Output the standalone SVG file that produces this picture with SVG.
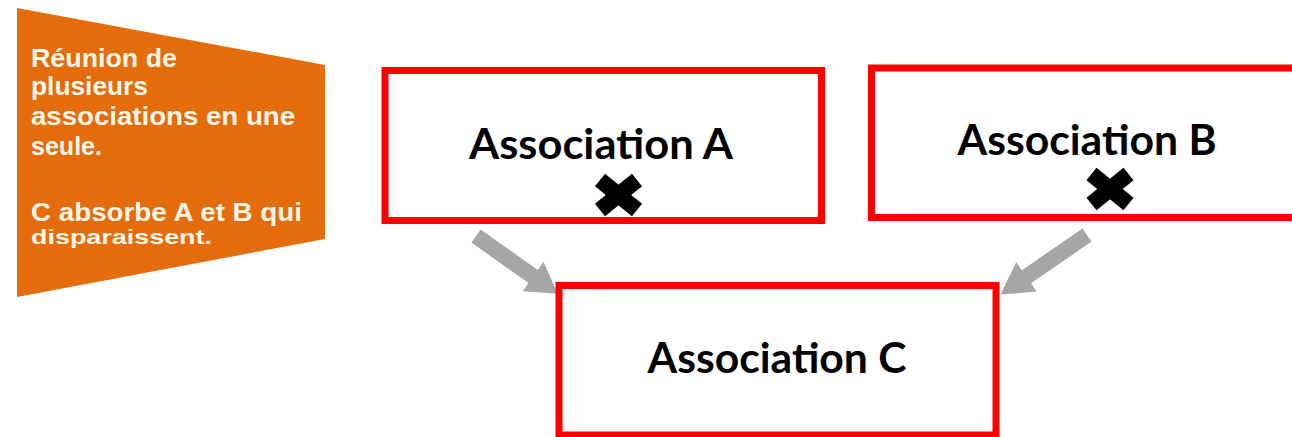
<svg xmlns="http://www.w3.org/2000/svg" width="1292" height="437" viewBox="0 0 1292 437">
<defs>
<style>
.box{fill:#ffffff;stroke:#ff0000;stroke-width:7}
.lbl{font-family:Lato,"Liberation Sans",Arial,sans-serif;font-weight:bold;font-size:42px;fill:#000000;text-anchor:middle}
.note{font-family:"Liberation Sans",Arial,sans-serif;font-weight:bold;font-size:26px;fill:#FFF6EA}
.arrow{fill:#a6a6a6}
.cross{stroke:#000000;stroke-width:16;stroke-linecap:butt}
</style>
<polygon id="arrowShape" points="0,-8 70,-8 70,-18 100,0 70,18 70,8 0,8"/>
</defs>
<rect width="1292" height="437" fill="#ffffff"/>

<g id="note">
<polygon points="17,8 325,65 325,239 17,297" fill="#E46C0A"/>
<text class="note" x="31" y="67" textLength="146" lengthAdjust="spacingAndGlyphs">Réunion de</text>
<text class="note" x="31" y="95" textLength="117" lengthAdjust="spacingAndGlyphs">plusieurs</text>
<text class="note" x="31" y="125" textLength="264" lengthAdjust="spacingAndGlyphs">associations  en une</text>
<text class="note" x="31" y="155" textLength="71" lengthAdjust="spacingAndGlyphs">seule.</text>
<text class="note"><tspan x="31" y="221" textLength="271" lengthAdjust="spacingAndGlyphs">C absorbe A et B qui</tspan><tspan x="31" y="244" font-size="21" textLength="181" lengthAdjust="spacingAndGlyphs">disparaissent.</tspan></text>
</g>

<g id="connectors">
<use href="#arrowShape" class="arrow" transform="translate(476,236) rotate(35.3)"/>
<use href="#arrowShape" class="arrow" transform="translate(1087,235) rotate(145.4) scale(1.05,1)"/>
</g>

<g id="association-a">
<rect class="box" x="385" y="70.5" width="436.5" height="150"/>
<text class="lbl" x="601" y="159" textLength="264" lengthAdjust="spacingAndGlyphs">Association A</text>
<g class="cross">
<line x1="600" y1="180" x2="637" y2="210"/>
<line x1="637" y1="180" x2="600" y2="210"/>
</g>
</g>

<g id="association-b">
<rect class="box" x="871.5" y="68" width="440" height="149.5"/>
<text class="lbl" x="1087" y="155" textLength="259" lengthAdjust="spacingAndGlyphs">Association B</text>
<g class="cross">
<line x1="1091.5" y1="174" x2="1128.5" y2="204"/>
<line x1="1128.5" y1="174" x2="1091.5" y2="204"/>
</g>
</g>

<g id="association-c">
<rect class="box" x="559" y="285.5" width="437" height="149.5"/>
<text class="lbl" x="777" y="373" textLength="259" lengthAdjust="spacingAndGlyphs">Association C</text>
</g>
</svg>
